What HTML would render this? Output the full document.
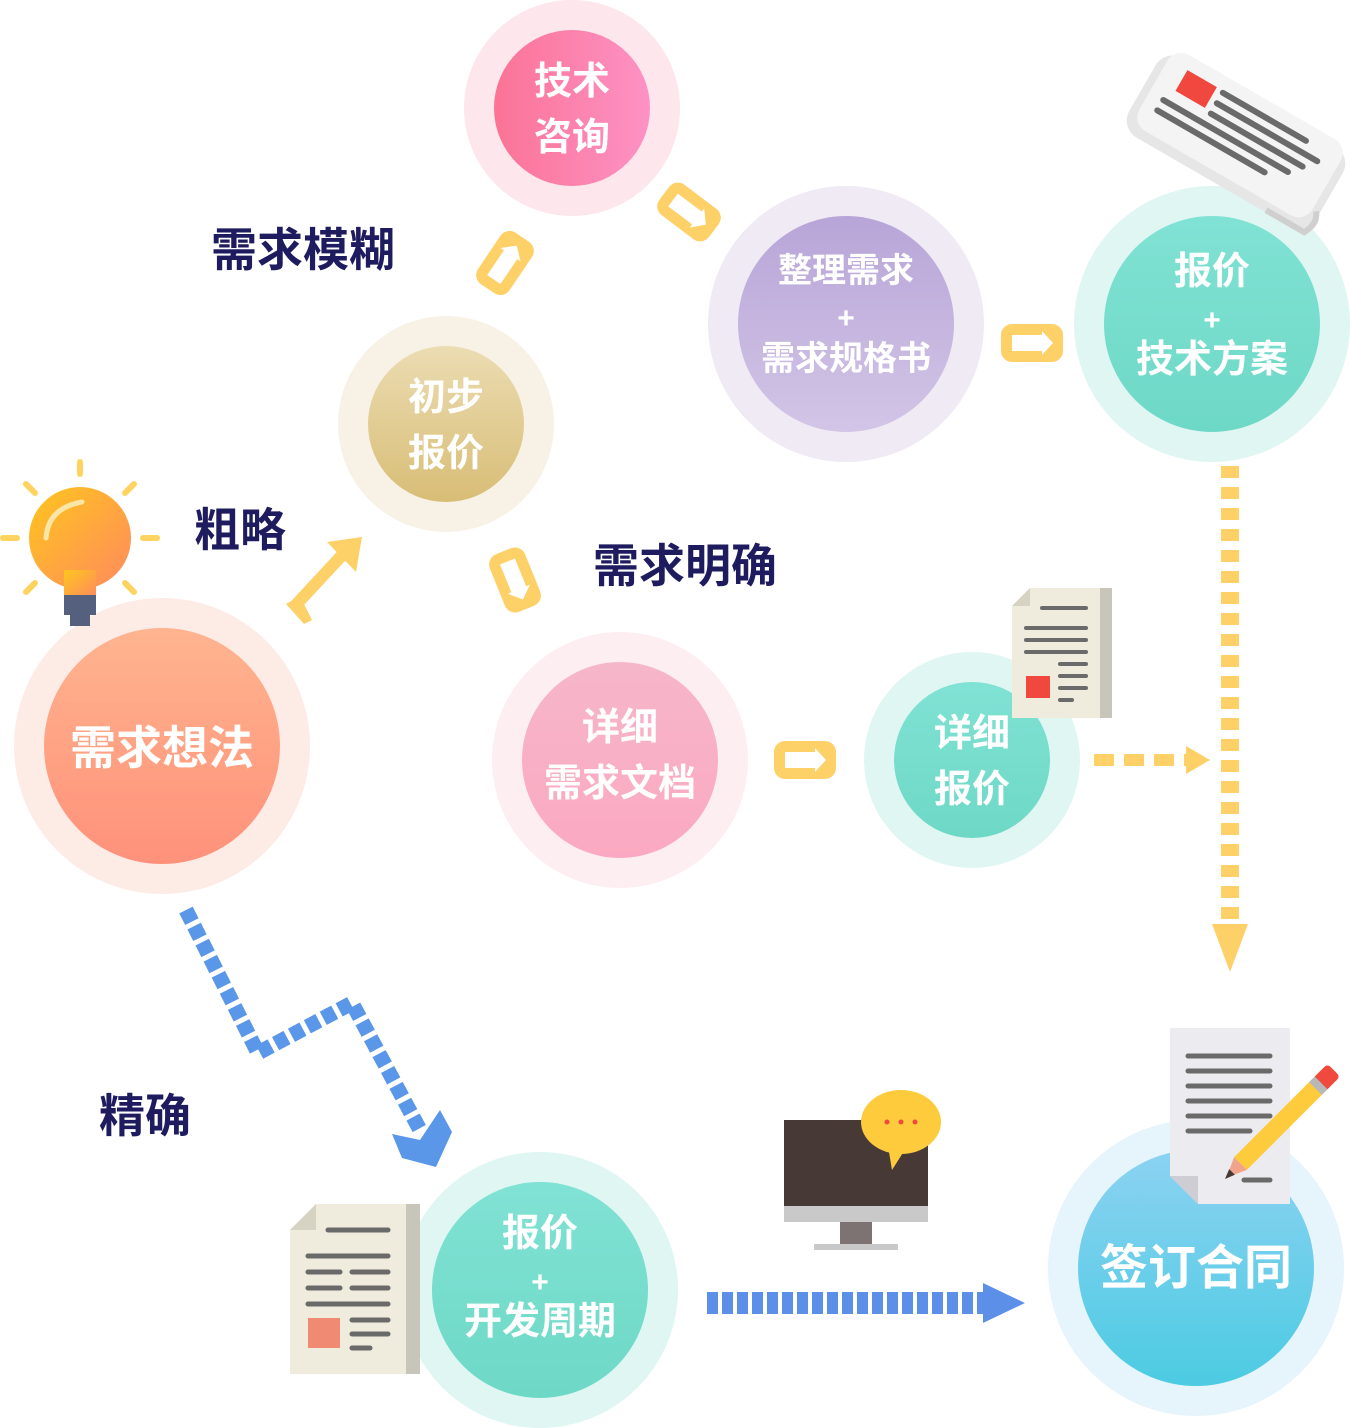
<!DOCTYPE html>
<html><head><meta charset="utf-8"><style>
html,body{margin:0;padding:0;background:#fff}
svg{display:block}
text{font-family:"Liberation Sans","Noto Sans CJK SC",sans-serif;font-weight:bold}
</style></head><body>
<svg width="1350" height="1428" viewBox="0 0 1350 1428" xmlns="http://www.w3.org/2000/svg">
<defs>
<linearGradient id="gPink" x1="0" y1="0" x2="1" y2="0"><stop offset="0" stop-color="#fb7396"/><stop offset="1" stop-color="#fd92c4"/></linearGradient>
<linearGradient id="gPurple" x1="0" y1="0" x2="0" y2="1"><stop offset="0" stop-color="#b8a5d8"/><stop offset="1" stop-color="#d2c5e6"/></linearGradient>
<linearGradient id="gTeal" x1="0" y1="0" x2="0" y2="1"><stop offset="0" stop-color="#80e2d4"/><stop offset="1" stop-color="#6ed8c6"/></linearGradient>
<linearGradient id="gGold" x1="0" y1="0" x2="0" y2="1"><stop offset="0" stop-color="#ebdcb2"/><stop offset="1" stop-color="#d8bd76"/></linearGradient>
<linearGradient id="gOrange" x1="0" y1="0" x2="0" y2="1"><stop offset="0" stop-color="#ffb48f"/><stop offset="1" stop-color="#ff917a"/></linearGradient>
<linearGradient id="gRose" x1="0" y1="0" x2="0" y2="1"><stop offset="0" stop-color="#f6b6c9"/><stop offset="1" stop-color="#fba9c2"/></linearGradient>
<linearGradient id="gBlue" x1="0" y1="0" x2="0" y2="1"><stop offset="0" stop-color="#8cd2f2"/><stop offset="1" stop-color="#4ccbe2"/></linearGradient>
<linearGradient id="gBulb" x1="0" y1="0" x2="1" y2="1"><stop offset="0" stop-color="#ffc61d"/><stop offset="1" stop-color="#ff8a5e"/></linearGradient>
<g id="ya">
<rect x="-31" y="-19" width="62" height="38" rx="11" fill="#fed068"/>
<polygon points="-20,-8 10,-8 10,-12 21,0 10,12 10,8 -20,8" fill="#fff"/>
</g>
</defs>

<!-- circles -->
<circle cx="572" cy="108" r="108" fill="#fde6ec"/><circle cx="572" cy="108" r="78" fill="url(#gPink)"/>
<circle cx="846" cy="324" r="138" fill="#efeaf4"/><circle cx="846" cy="324" r="108" fill="url(#gPurple)"/>
<circle cx="1212" cy="324" r="138" fill="#e0f6f2"/><circle cx="1212" cy="324" r="108" fill="url(#gTeal)"/>
<circle cx="446" cy="424" r="108" fill="#f7f2e5"/><circle cx="446" cy="424" r="78" fill="url(#gGold)"/>
<circle cx="162" cy="746" r="148" fill="#fdebe6"/><circle cx="162" cy="746" r="118" fill="url(#gOrange)"/>
<circle cx="620" cy="760" r="128" fill="#fdeef1"/><circle cx="620" cy="760" r="98" fill="url(#gRose)"/>
<circle cx="972" cy="760" r="108" fill="#dff6f2"/><circle cx="972" cy="760" r="78" fill="url(#gTeal)"/>
<circle cx="540" cy="1290" r="138" fill="#dff6f2"/><circle cx="540" cy="1290" r="108" fill="url(#gTeal)"/>
<circle cx="1196" cy="1268" r="148" fill="#e6f4fb"/><circle cx="1196" cy="1268" r="118" fill="url(#gBlue)"/>

<!-- circle text -->
<g fill="#fff" text-anchor="middle">
<text x="572" y="94" font-size="38">技术</text><text x="572" y="150" font-size="38">咨询</text>
<text x="846" y="282" font-size="34">整理需求</text><text x="846" y="328" font-size="30">+</text><text x="846" y="370" font-size="34">需求规格书</text>
<text x="1212" y="284" font-size="38">报价</text><text x="1212" y="330" font-size="30">+</text><text x="1212" y="372" font-size="38">技术方案</text>
<text x="446" y="410" font-size="38">初步</text><text x="446" y="466" font-size="38">报价</text>
<text x="162" y="764" font-size="46">需求想法</text>
<text x="620" y="740" font-size="38">详细</text><text x="620" y="796" font-size="38">需求文档</text>
<text x="972" y="746" font-size="38">详细</text><text x="972" y="802" font-size="38">报价</text>
<text x="540" y="1246" font-size="38">报价</text><text x="540" y="1292" font-size="30">+</text><text x="540" y="1334" font-size="38">开发周期</text>
<text x="1196" y="1284" font-size="48">签订合同</text>
</g>

<!-- labels -->
<g fill="#1f1b5f">
<text x="211" y="266" font-size="46">需求模糊</text>
<text x="194" y="546" font-size="46">粗略</text>
<text x="593" y="582" font-size="46">需求明确</text>
<text x="99" y="1132" font-size="46">精确</text>
</g>

<!-- yellow box arrows -->
<use href="#ya" transform="translate(1032,343)"/>
<use href="#ya" transform="translate(805,760)"/>
<use href="#ya" transform="translate(689,212) rotate(37)"/>
<use href="#ya" transform="translate(505,263) rotate(-56)"/>
<use href="#ya" transform="translate(515,580) rotate(68)"/>

<!-- rough arrow -->
<line x1="293" y1="608" x2="345" y2="552" stroke="#fed068" stroke-width="12"/>
<polygon points="327,542 362,537 356,572" fill="#fed068"/>
<polygon points="286,604 300,596 312,620 304,624" fill="#fed068"/>

<!-- yellow dotted vertical -->
<line x1="1230" y1="466" x2="930" y2="466" stroke="none"/>
<line x1="1230" y1="466" x2="1230" y2="930" stroke="#fed068" stroke-width="18" stroke-dasharray="12 9"/>
<polygon points="1212,924 1248,924 1230,972" fill="#fed068"/>
<line x1="1094" y1="760" x2="1190" y2="760" stroke="#fed068" stroke-width="12" stroke-dasharray="20 10"/>
<polygon points="1186,746 1210,760 1186,774" fill="#fed068"/>

<!-- blue dotted path -->
<polyline points="186,910 258,1053 352,1003 420,1130" fill="none" stroke="#5b97e8" stroke-width="15" stroke-dasharray="13 5"/>
<polygon points="392,1134 420,1140 440,1110 452,1132 436,1167 402,1158" fill="#5b97e8"/>

<!-- blue horizontal -->
<line x1="707" y1="1303" x2="985" y2="1303" stroke="#5b8fe8" stroke-width="22" stroke-dasharray="11 4"/>
<polygon points="983,1283 1025,1303 983,1323" fill="#5b8fe8"/>

<!-- bulb -->
<g stroke="#fed35f" stroke-width="6" stroke-linecap="round">
<line x1="80" y1="462" x2="80" y2="474"/><line x1="26" y1="484" x2="35" y2="493"/><line x1="134" y1="484" x2="125" y2="493"/>
<line x1="3" y1="538" x2="17" y2="538"/><line x1="143" y1="538" x2="157" y2="538"/>
<line x1="26" y1="592" x2="35" y2="583"/><line x1="134" y1="592" x2="125" y2="583"/>
</g>
<circle cx="80" cy="538" r="51" fill="url(#gBulb)"/>
<rect x="64" y="570" width="32" height="28" fill="url(#gBulb)"/>
<rect x="64" y="595" width="32" height="20" fill="#55607e"/>
<rect x="70" y="612" width="20" height="14" fill="#55607e"/>
<path d="M46,538 Q48,508 82,502" stroke="#fae7a8" stroke-width="5" fill="none" stroke-linecap="round"/>

<!-- newspaper -->
<g transform="translate(1236,142) rotate(30)">
<rect x="-108" y="-46" width="216" height="92" rx="20" fill="#e6e6e6"/>
<rect x="-100" y="-52" width="200" height="88" rx="16" fill="#f4f4f4"/>
<rect x="-78" y="-38" width="34" height="24" fill="#f0483e"/>
<g stroke="#6b6a6a" stroke-width="6" stroke-linecap="round">
<line x1="-36" y1="-36" x2="60" y2="-36"/><line x1="-36" y1="-24" x2="80" y2="-24"/>
<line x1="-36" y1="-12" x2="70" y2="-12"/><line x1="-84" y1="0" x2="60" y2="0"/><line x1="-84" y1="12" x2="40" y2="12"/>
</g>
<path d="M60,44 L104,44 Q112,30 104,20" stroke="#cfcfcf" stroke-width="6" fill="none"/>
</g>

<!-- doc near 详细报价 -->
<g>
<polygon points="1030,588 1112,588 1112,718 1012,718 1012,606" fill="#efebdd"/>
<rect x="1100" y="588" width="12" height="130" fill="#c8c6bb"/>
<polygon points="1012,606 1030,588 1030,606" fill="#d7d3c3"/>
<g stroke="#6b6a6a" stroke-width="4" stroke-linecap="round">
<line x1="1042" y1="608" x2="1086" y2="608"/><line x1="1026" y1="628" x2="1086" y2="628"/>
<line x1="1026" y1="640" x2="1086" y2="640"/><line x1="1026" y1="652" x2="1086" y2="652"/>
<line x1="1060" y1="664" x2="1086" y2="664"/><line x1="1060" y1="676" x2="1086" y2="676"/><line x1="1060" y1="688" x2="1086" y2="688"/>
<line x1="1060" y1="700" x2="1072" y2="700"/>
</g>
<rect x="1026" y="676" width="24" height="22" fill="#f0483e"/>
</g>

<!-- doc near 开发周期 -->
<g>
<polygon points="316,1204 420,1204 420,1374 290,1374 290,1230" fill="#efebdd"/>
<rect x="406" y="1204" width="14" height="170" fill="#c8c6bb"/>
<polygon points="290,1230 316,1204 316,1230" fill="#d7d3c3"/>
<g stroke="#6b6a6a" stroke-width="5" stroke-linecap="round">
<line x1="328" y1="1230" x2="388" y2="1230"/><line x1="308" y1="1256" x2="388" y2="1256"/>
<line x1="308" y1="1272" x2="340" y2="1272"/><line x1="352" y1="1272" x2="388" y2="1272"/>
<line x1="308" y1="1288" x2="340" y2="1288"/><line x1="352" y1="1288" x2="388" y2="1288"/>
<line x1="308" y1="1304" x2="388" y2="1304"/><line x1="352" y1="1320" x2="388" y2="1320"/>
<line x1="352" y1="1334" x2="388" y2="1334"/><line x1="352" y1="1348" x2="370" y2="1348"/>
</g>
<rect x="308" y="1318" width="32" height="30" fill="#f08a73"/>
</g>

<!-- monitor -->
<g>
<rect x="784" y="1120" width="144" height="88" fill="#473a36"/>
<rect x="784" y="1206" width="144" height="16" fill="#c9c9c9"/>
<rect x="840" y="1222" width="32" height="22" fill="#7d7373"/>
<rect x="814" y="1244" width="84" height="6" fill="#c9c9c9"/>
<ellipse cx="901" cy="1122" rx="40" ry="32" fill="#fecb3d"/>
<polygon points="888,1146 906,1148 892,1170" fill="#fecb3d"/>
<circle cx="887" cy="1122" r="2.5" fill="#f04a3e"/><circle cx="901" cy="1122" r="2.5" fill="#f04a3e"/><circle cx="915" cy="1122" r="2.5" fill="#f04a3e"/>
</g>

<!-- contract doc -->
<g>
<polygon points="1170,1028 1290,1028 1290,1204 1198,1204 1170,1176" fill="#ecebef"/>
<polygon points="1170,1176 1198,1176 1198,1204" fill="#cfcdd4"/>
<g stroke="#6b6a6a" stroke-width="5" stroke-linecap="round">
<line x1="1188" y1="1056" x2="1270" y2="1056"/><line x1="1188" y1="1071" x2="1270" y2="1071"/>
<line x1="1188" y1="1086" x2="1270" y2="1086"/><line x1="1188" y1="1101" x2="1270" y2="1101"/>
<line x1="1188" y1="1116" x2="1270" y2="1116"/><line x1="1188" y1="1131" x2="1250" y2="1131"/>
<line x1="1244" y1="1180" x2="1270" y2="1180"/>
</g>
<g transform="translate(1290,1114) rotate(-45)">
<rect x="-70" y="-9" width="120" height="18" fill="#fecb3d"/>
<rect x="40" y="-9" width="22" height="18" rx="4" fill="#f04a3e"/>
<rect x="36" y="-9" width="8" height="18" fill="#b8b8b8"/>
<polygon points="-70,-9 -70,9 -90,0" fill="#f2a48a"/>
<polygon points="-82,-4 -82,4 -92,0" fill="#473a36"/>
</g>
</g>
</svg>
</body></html>
